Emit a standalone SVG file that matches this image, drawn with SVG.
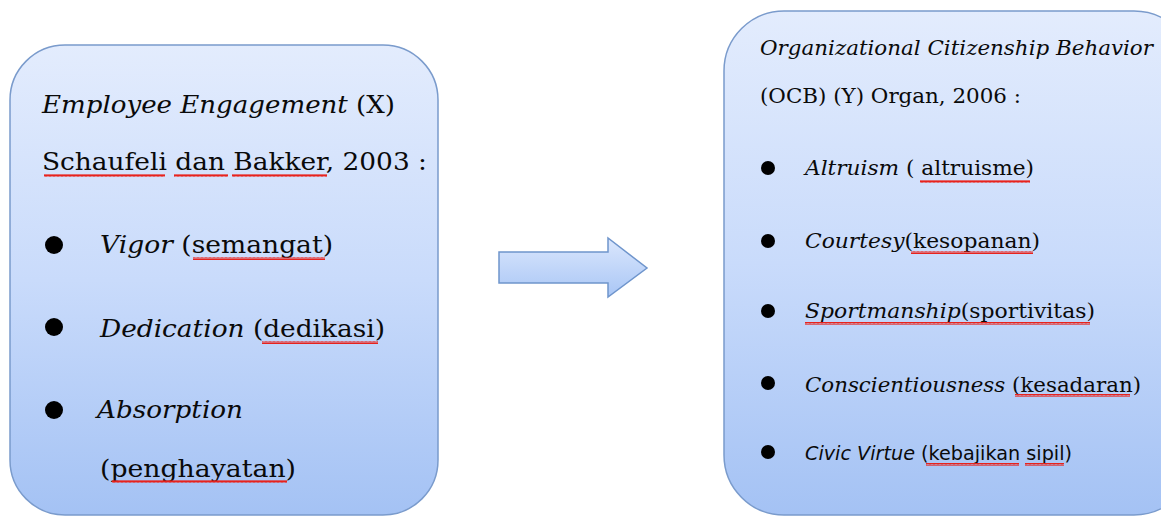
<svg xmlns="http://www.w3.org/2000/svg" width="1161" height="517" viewBox="0 0 1161 517">
<defs>
<linearGradient id="boxg" x1="0" y1="0" x2="0" y2="1">
<stop offset="0" stop-color="#e3ecfd"/>
<stop offset="0.5" stop-color="#c9dbfb"/>
<stop offset="1" stop-color="#a4c2f4"/>
</linearGradient>
<linearGradient id="arrg" x1="0" y1="0" x2="0" y2="1">
<stop offset="0" stop-color="#dbe7fd"/>
<stop offset="1" stop-color="#a9c6f5"/>
</linearGradient>
<pattern id="wave" width="4" height="3" patternUnits="userSpaceOnUse">
<path d="M0,2.5 L1,0.5 L2,2.5 L3,0.5 L4,2.5" fill="none" stroke="#e8201a" stroke-width="1.1"/>
</pattern>
<style>
.box{fill:url(#boxg);stroke:#7a9bcc;stroke-width:1.5}
.t{font-family:"DejaVu Serif","Liberation Serif",serif;fill:#0a0a0a}
.l{font-size:24px}
.r{font-size:21px}
.i{font-style:italic}
.s{font-family:"DejaVu Sans","Liberation Sans",sans-serif;font-size:19px;fill:#0a0a0a}
.b{fill:#000}
.w{fill:url(#wave)}
</style>
</defs>
<g id="left-node">
<rect class="box" x="10" y="45" width="428" height="470" rx="55" ry="55"/>
<text class="t l" x="42" y="113" textLength="353" lengthAdjust="spacingAndGlyphs"><tspan class="i">Employee Engagement</tspan> (X)</text>
<text class="t l" x="42" y="170" textLength="385" lengthAdjust="spacingAndGlyphs">Schaufeli dan Bakker, 2003 :</text>
<circle class="b" cx="54" cy="245" r="9"/>
<text class="t l" x="100" y="253" textLength="233" lengthAdjust="spacingAndGlyphs"><tspan class="i">Vigor</tspan> (semangat)</text>
<circle class="b" cx="54" cy="327" r="9"/>
<text class="t l" x="100" y="337" textLength="285" lengthAdjust="spacingAndGlyphs"><tspan class="i">Dedication</tspan> (dedikasi)</text>
<circle class="b" cx="54" cy="410" r="9"/>
<text class="t l i" x="97" y="418" textLength="146" lengthAdjust="spacingAndGlyphs">Absorption</text>
<text class="t l" x="100" y="477" textLength="196" lengthAdjust="spacingAndGlyphs">(penghayatan)</text>
<rect class="w" x="44" y="174" width="121" height="3"/>
<rect class="w" x="174" y="174" width="54" height="3"/>
<rect class="w" x="232" y="174" width="95" height="3"/>
<rect class="w" x="193" y="257" width="132" height="3"/>
<rect class="w" x="262" y="341" width="116" height="3"/>
<rect class="w" x="112" y="480" width="175" height="3"/>
</g>
<g id="right-node">
<rect class="box" x="724" y="11" width="470" height="504" rx="60" ry="60"/>
<text class="t r i" x="760" y="55" textLength="393" lengthAdjust="spacingAndGlyphs">Organizational Citizenship Behavior</text>
<text class="t r" x="760" y="103" textLength="261" lengthAdjust="spacingAndGlyphs">(OCB) (Y) Organ, 2006 :</text>
<circle class="b" cx="768" cy="168" r="7"/>
<text class="t r" x="805" y="175" textLength="229" lengthAdjust="spacingAndGlyphs"><tspan class="i">Altruism</tspan> ( altruisme)</text>
<circle class="b" cx="768" cy="241" r="7"/>
<text class="t r" x="805" y="248" textLength="235" lengthAdjust="spacingAndGlyphs"><tspan class="i">Courtesy</tspan>(kesopanan)</text>
<circle class="b" cx="768" cy="311" r="7"/>
<text class="t r" x="805" y="318" textLength="290" lengthAdjust="spacingAndGlyphs"><tspan class="i">Sportmanship</tspan>(sportivitas)</text>
<circle class="b" cx="768" cy="383" r="7"/>
<text class="t r" x="805" y="392" textLength="336" lengthAdjust="spacingAndGlyphs"><tspan class="i">Conscientiousness</tspan> (kesadaran)</text>
<circle class="b" cx="768" cy="452" r="7"/>
<text class="s" x="805" y="460" textLength="267" lengthAdjust="spacingAndGlyphs"><tspan class="i">Civic Virtue</tspan> (kebajikan sipil)</text>
<rect class="w" x="920" y="180" width="110" height="3"/>
<rect class="w" x="911" y="251" width="122" height="3"/>
<rect class="w" x="805" y="322" width="285" height="3"/>
<rect class="w" x="1015" y="394" width="115" height="3"/>
<rect class="w" x="926" y="463" width="93" height="3"/>
<rect class="w" x="1025" y="463" width="39" height="3"/>
</g>
<g id="connectors">
<path d="M499,252 L608,252 L608,238 L647,268 L608,297 L608,283 L499,283 Z" fill="url(#arrg)" stroke="#6f95cc" stroke-width="1.5" stroke-linejoin="miter"/>
</g>
</svg>
